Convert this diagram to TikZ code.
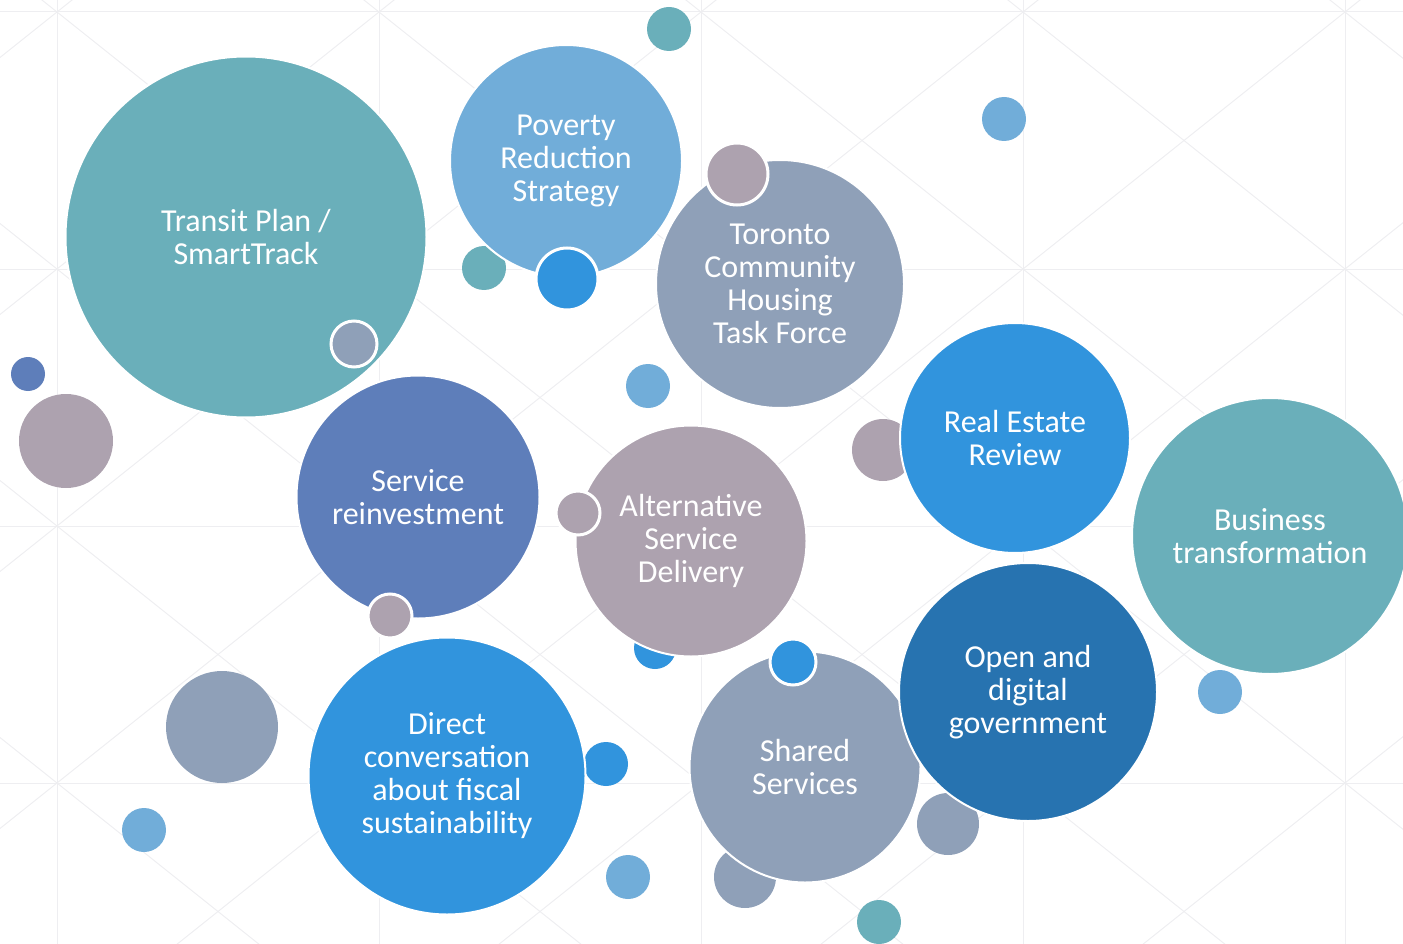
\documentclass[tikz,border=0pt]{standalone}
\usepackage{fontspec}
\setmainfont{Carlito}
\definecolor{cteal}{HTML}{6AAFBA}
\definecolor{clight}{HTML}{71ADD9}
\definecolor{cslate}{HTML}{8FA0B8}
\definecolor{cblue}{HTML}{3194DD}
\definecolor{cmauve}{HTML}{ADA2AF}
\definecolor{cdeep}{HTML}{2773B0}
\definecolor{cindigo}{HTML}{5E7EBA}
\definecolor{gridgray}{HTML}{EEEEF1}
\begin{document}
\begin{tikzpicture}[x=1pt,y=-1pt,
  bubble/.style={circle, draw=white, line width=2pt, inner sep=0pt,
    minimum size=#1, text=white, align=center,
    font=\fontsize{32}{33}\selectfont},
  spot/.style={circle, draw=white, line width=3pt, inner sep=0pt, minimum size=#1},
  backspot/.style={circle, inner sep=0pt, minimum size=#1},
  gridline/.style={draw=gridgray, line width=1pt}]
\useasboundingbox (0,0) rectangle (1403,944);

% faint background lattice
\begin{scope}
  \clip (0,0) rectangle (1403,944);
  \foreach \i in {-1,...,4} {
    \foreach \j in {-1,...,3} {
      \draw[gridline] (57+322*\i,12+257*\j) -- ++(322,257);
      \draw[gridline] (379+322*\i,12+257*\j) -- ++(-322,257);
    }
  }
  \foreach \i in {0,...,4} \draw[gridline] (57+322*\i,0) -- (57+322*\i,944);
  \foreach \j in {0,...,3} \draw[gridline] (0,12+257*\j) -- (1403,12+257*\j);
\end{scope}

% small bubbles lying behind the large ones
\node[backspot=44pt, fill=cteal]  (s1)  at (669,29)  {};
\node[backspot=44pt, fill=clight] (s2)  at (1004,119) {};
\node[backspot=44pt, fill=cteal]  (s3)  at (484,268) {};
\node[backspot=34pt, fill=cindigo] (s4) at (28,374)  {};
\node[backspot=94pt, fill=cmauve] (s5)  at (66,441)  {};
\node[backspot=44pt, fill=clight] (s6)  at (648,386) {};
\node[backspot=62pt, fill=cmauve] (s7)  at (883,450) {};
\node[backspot=42pt, fill=cblue]  (s8)  at (655,648) {};
\node[backspot=44pt, fill=clight] (s9)  at (1220,692) {};
\node[backspot=112pt, fill=cslate] (s10) at (222,727) {};
\node[backspot=44pt, fill=cblue]  (s11) at (606,764) {};
\node[backspot=44pt, fill=clight] (s12) at (144,830) {};
\node[backspot=62pt, fill=cslate] (s13) at (948,824) {};
\node[backspot=44pt, fill=clight] (s14) at (628,877) {};
\node[backspot=62pt, fill=cslate] (s15) at (745,877) {};
\node[backspot=44pt, fill=cteal]  (s16) at (879,922) {};

% large labelled bubbles
\node[bubble=361pt, fill=cteal]   (transit)  at (246,237) {Transit Plan /\\SmartTrack};
\node[bubble=232pt, fill=clight]  (poverty)  at (566,161) {Poverty\\Reduction\\Strategy};
\node[bubble=248pt, fill=cslate]  (housing)  at (780,284) {Toronto\\Community\\Housing\\Task Force};
\node[bubble=230pt, fill=cblue]   (estate)   at (1015,438) {Real Estate\\Review};
\node[bubble=276pt, fill=cteal]   (business) at (1270,536) {Business\\transformation};
\node[bubble=243pt, fill=cindigo] (reinvest) at (418,497) {Service\\reinvestment};
\node[bubble=231pt, fill=cmauve]  (delivery) at (691,541) {Alternative\\Service\\Delivery};
\node[bubble=277pt, fill=cblue]   (fiscal)   at (447,776) {Direct\\conversation\\about fiscal\\sustainability};
\node[bubble=231pt, fill=cslate]  (shared)   at (805,767) {Shared\\Services};
\node[bubble=258pt, fill=cdeep]   (digital)  at (1028,692) {Open and\\digital\\government};

% small bubbles sitting on top of the large ones
\node[spot=62pt, fill=cmauve] (t1) at (737,174) {};
\node[spot=62pt, fill=cblue]  (t2) at (567,279) {};
\node[spot=46pt, fill=cslate] (t3) at (354,344) {};
\node[spot=44pt, fill=cmauve] (t4) at (578,513) {};
\node[spot=44pt, fill=cmauve] (t5) at (390,616) {};
\node[spot=46pt, fill=cblue]  (t6) at (793,662) {};
\end{tikzpicture}
\end{document}
